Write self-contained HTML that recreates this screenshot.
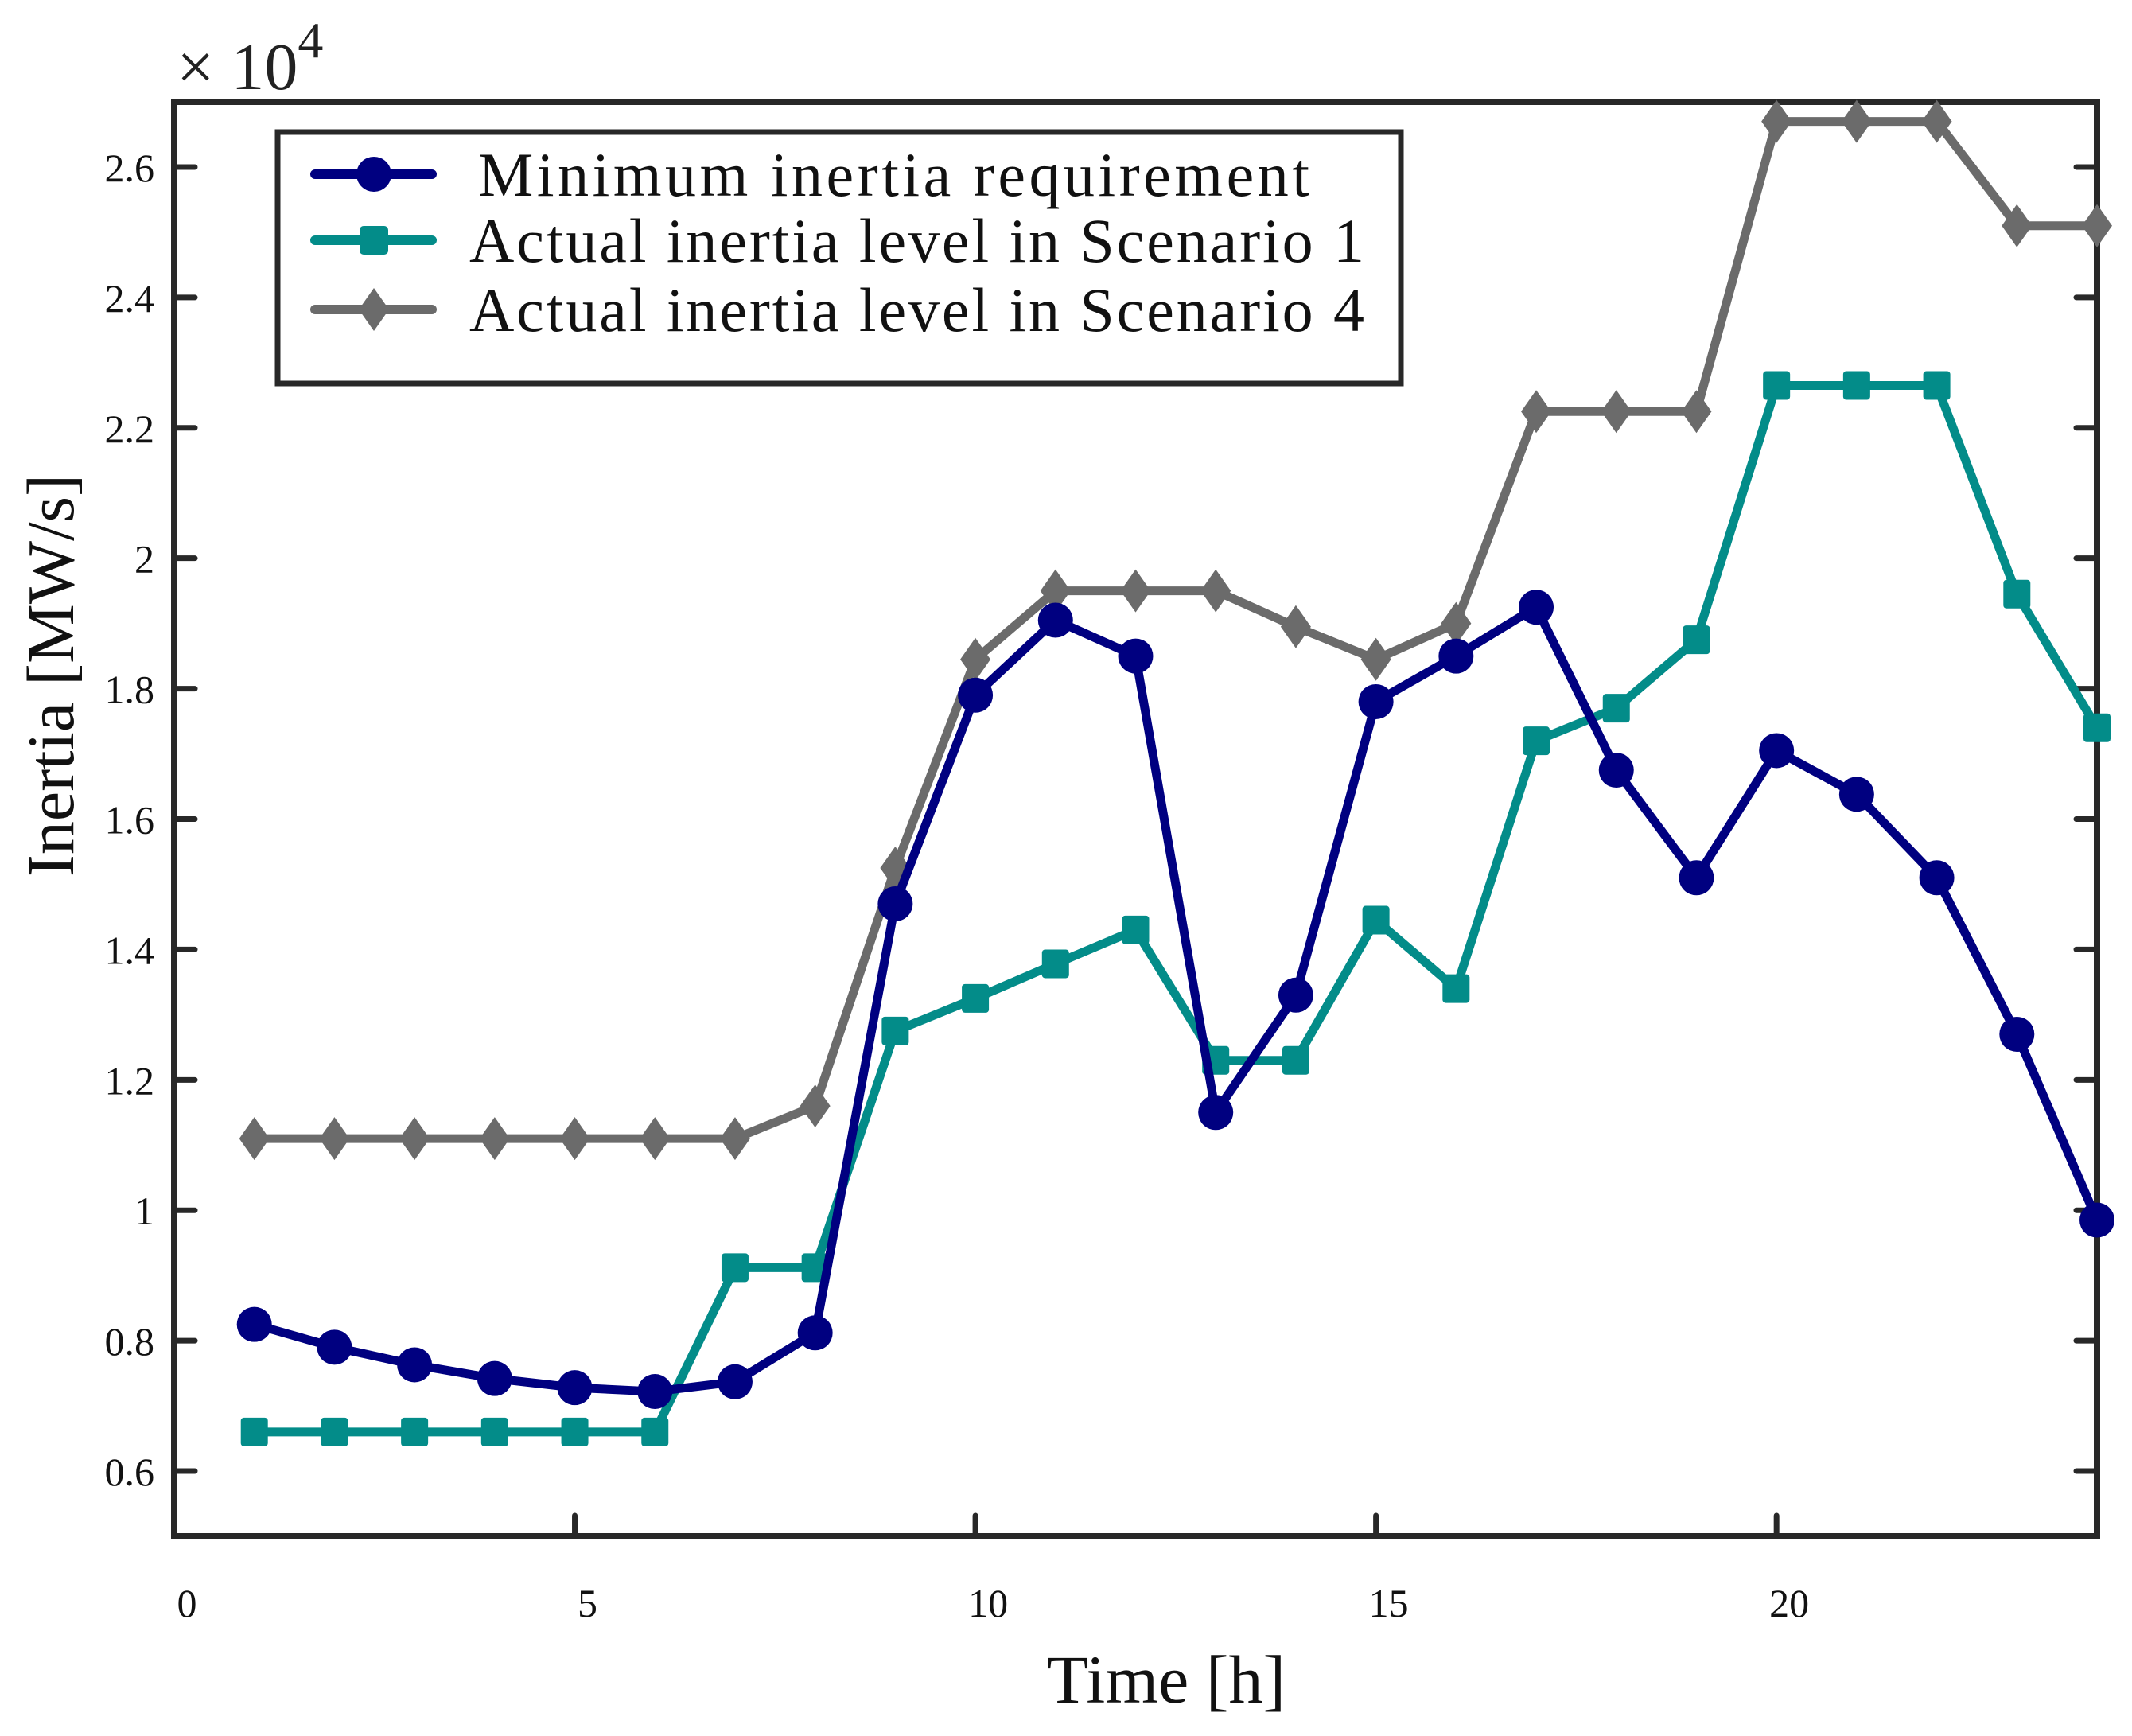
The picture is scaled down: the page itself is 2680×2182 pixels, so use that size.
<!DOCTYPE html>
<html><head><meta charset="utf-8"><style>
html,body{margin:0;padding:0;background:#fff;}
svg{display:block;font-family:"Liberation Serif",serif;}
</style></head><body>
<svg id="chart" width="2680" height="2182" viewBox="0 0 2680 2182" xmlns="http://www.w3.org/2000/svg">
<rect width="2680" height="2182" fill="#fff"/>
<g id="plot"></g>
<text x="222" y="112" font-size="84" fill="#222">× 10<tspan font-size="64" dy="-40">4</tspan></text>
<text x="1466" y="2140" font-size="86" text-anchor="middle" fill="#111">Time [h]</text>
<text transform="translate(92,849) rotate(-90)" font-size="84" text-anchor="middle" fill="#111">Inertia [MW/s]</text>
<g>
<rect x="349" y="166" width="1412" height="316" fill="#fff" stroke="#282828" stroke-width="7"/>
<g>
<line x1="396" y1="219" x2="543" y2="219" stroke="#000080" stroke-width="12" stroke-linecap="round"/>
<circle cx="470" cy="219" r="22" fill="#000080"/>
<text x="601" y="246" font-size="78" textLength="1045" fill="#111">Minimum inertia requirement</text>
</g>
<g>
<line x1="396" y1="302" x2="543" y2="302" stroke="#038c89" stroke-width="12" stroke-linecap="round"/>
<rect x="452" y="284" width="36" height="36" rx="5" fill="#038c89"/>
<text x="590" y="329" font-size="78" textLength="1125" fill="#111">Actual inertia level in Scenario 1</text>
</g>
<g>
<line x1="396" y1="389" x2="543" y2="389" stroke="#6b6b6b" stroke-width="12" stroke-linecap="round"/>
<polygon points="470,362 489,389 470,416 451,389" fill="#6b6b6b"/>
<text x="590" y="416" font-size="78" textLength="1125" fill="#111">Actual inertia level in Scenario 4</text>
</g>
</g>
</svg>
<script>
const hours = [1,2,3,4,5,6,7,8,9,10,11,12,13,14,15,16,17,18,19,20,21,22,23,24];
const minRequirement = [0.825,0.79,0.763,0.742,0.728,0.722,0.737,0.812,1.47,1.79,1.905,1.85,1.15,1.33,1.78,1.85,1.925,1.675,1.51,1.705,1.638,1.51,1.27,0.985];
const scenario1 = [0.66,0.66,0.66,0.66,0.66,0.66,0.912,0.912,1.275,1.325,1.378,1.43,1.23,1.23,1.445,1.34,1.72,1.77,1.875,2.265,2.265,2.265,1.945,1.74];
const scenario4 = [1.11,1.11,1.11,1.11,1.11,1.11,1.11,1.16,1.525,1.845,1.95,1.95,1.95,1.895,1.845,1.9,2.225,2.225,2.225,2.67,2.67,2.67,2.51,2.51];
const xTicks = [0,5,10,15,20];
const yTicks = [0.6,0.8,1,1.2,1.4,1.6,1.8,2,2.2,2.4,2.6];
const yTickLabels = ["0.6","0.8","1","1.2","1.4","1.6","1.8","2","2.2","2.4","2.6"];

const L=219,R=2636,T=128,B=1931,X0=0,X1=24,Y0=0.5,Y1=2.7;
function sx(v){return L+(v-X0)/(X1-X0)*(R-L);}
function sy(v){return B-(v-Y0)/(Y1-Y0)*(B-T);}
const NS="http://www.w3.org/2000/svg";
const g=document.getElementById('plot');
function mk(tag,attrs,parent){const e=document.createElementNS(NS,tag);for(const k in attrs)e.setAttribute(k,attrs[k]);(parent||g).appendChild(e);return e;}

const box=mk('rect',{x:L,y:T,width:R-L,height:B-T,fill:'none',stroke:'#282828','stroke-width':8});



xTicks.forEach(v=>{
  const x=sx(v);
  const t=mk('line',{x1:x,y1:B,x2:x,y2:B-26,stroke:'#282828','stroke-width':7,'stroke-linecap':'round'});
  
  
  const lb=mk('text',{x:x+16,y:2032,'font-size':50,'text-anchor':'middle',fill:'#111'});
  lb.textContent=String(v);
  
  
});
yTicks.forEach((v,i)=>{
  const y=sy(v);
  const t=mk('line',{x1:L,y1:y,x2:L+26,y2:y,stroke:'#282828','stroke-width':7,'stroke-linecap':'round'});
  
  
  const t2=mk('line',{x1:R,y1:y,x2:R-26,y2:y,stroke:'#282828','stroke-width':7,'stroke-linecap':'round'});
  
  
  const lb=mk('text',{x:194,y:y+18,'font-size':50,'text-anchor':'end',fill:'#111'});
  lb.textContent=yTickLabels[i];
  
  
});

function series(vals,color,marker,name){
  const grp=mk('g',{});
  
  
  const pts=hours.map((h,i)=>sx(h)+','+sy(vals[i])).join(' ');
  const pl=mk('polyline',{points:pts,fill:'none',stroke:color,'stroke-width':11,'stroke-linejoin':'round','stroke-linecap':'round'},grp);
  
  
  hours.forEach((h,i)=>{
    const x=sx(h),y=sy(vals[i]);let m;
    if(marker==='circle') m=mk('circle',{cx:x,cy:y,r:22,fill:color},grp);
    else if(marker==='square') m=mk('rect',{x:x-17,y:y-18,width:34,height:36,rx:4,fill:color},grp);
    else m=mk('polygon',{points:`${x},${y-27} ${x+19},${y} ${x},${y+27} ${x-19},${y}`,fill:color},grp);
    
    
  });
}
series(scenario4,'#6b6b6b','diamond','scenario-4-series');
series(scenario1,'#038c89','square','scenario-1-series');
series(minRequirement,'#000080','circle','minimum-requirement-series');
</script>
</body></html>
